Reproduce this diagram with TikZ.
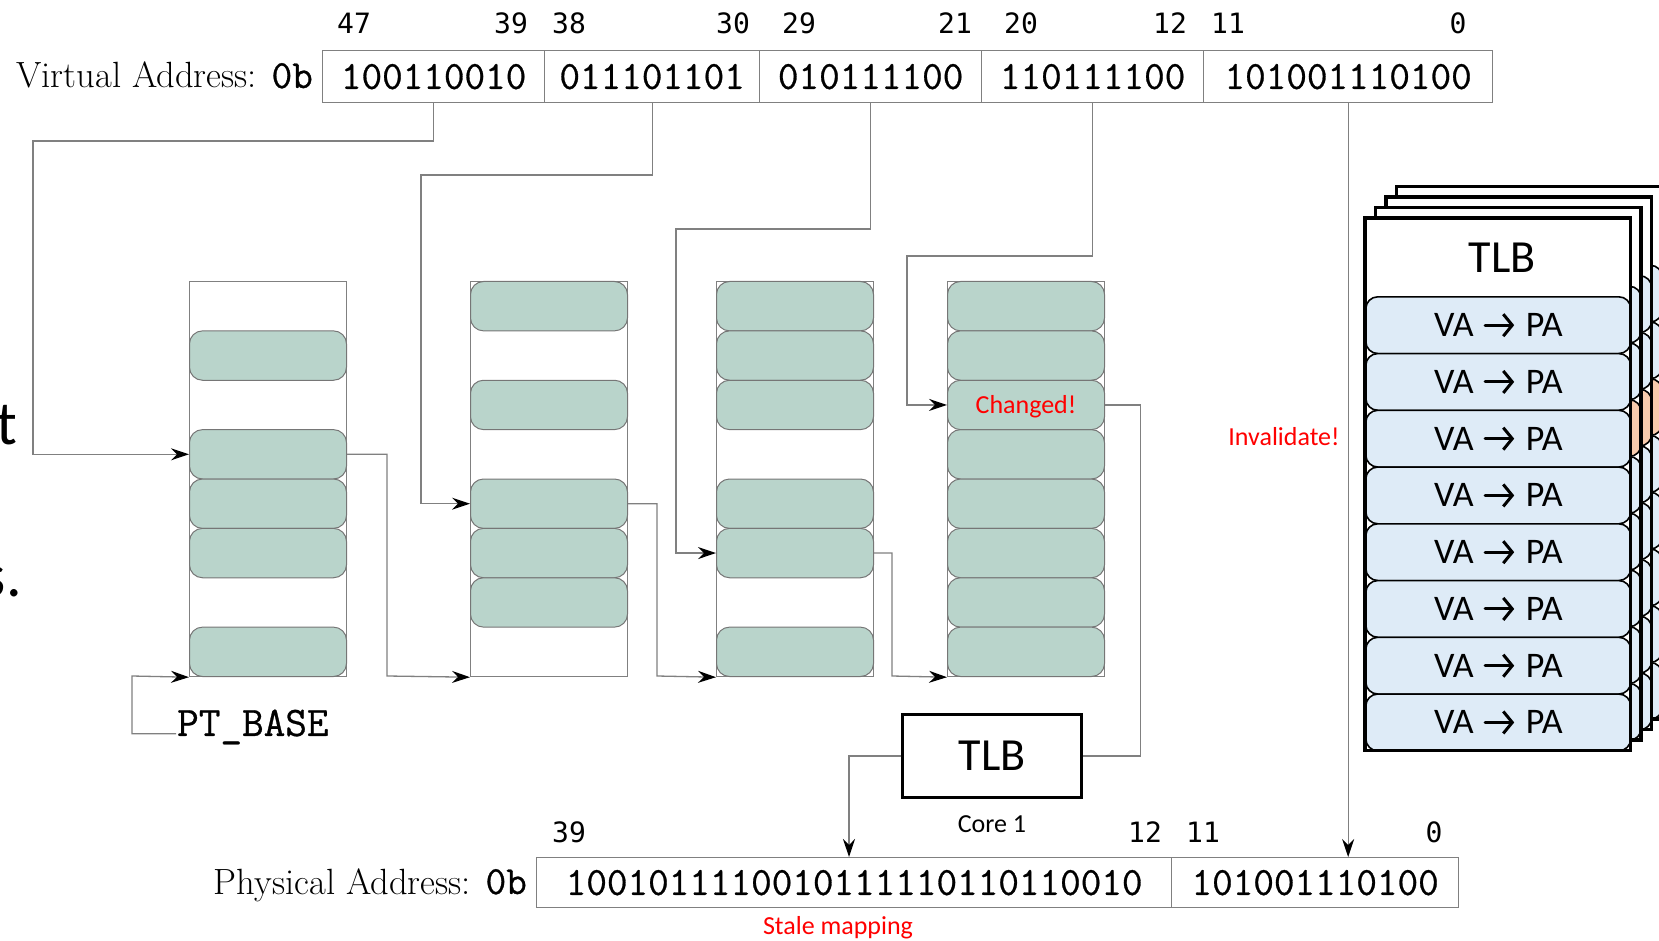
\documentclass[tikz,border=0pt]{standalone}
\usepackage{fontspec}
\usetikzlibrary{arrows.meta,calc}
\newfontfamily\calfont{Carlito}
\newfontfamily\nummono{DejaVu Sans Mono}
\newfontfamily\bitfont{Latin Modern Mono}[FakeBold=0.7]
\definecolor{wiregray}{RGB}{128,128,128}
\definecolor{ptegreen}{RGB}{185,212,203}
\definecolor{pteedge}{RGB}{118,118,118}
\definecolor{tlbblue}{RGB}{222,235,247}
\definecolor{tlborange}{RGB}{248,203,173}
\definecolor{alertred}{RGB}{255,0,0}
% chevron arrow used in the TLB entries
\newcommand{\maparrow}{\tikz[baseline=0pt]\draw[line width=3pt, line cap=round,
  -{Straight Barb[length=9pt, width=22pt, line width=3pt]}] (0pt,11.5pt) -- (29pt,11.5pt);}
\begin{document}
\begin{tikzpicture}[x=1pt,y=-1pt,
  wire/.style={draw=wiregray, line width=1.3pt},
  arr/.style={wire, -{Stealth[length=18pt, width=12pt, inset=6pt, color=black]}},
  vaseg/.style={draw=wiregray, line width=1.3pt, minimum height=52pt, inner sep=0pt,
    anchor=north west, font=\bitfont\fontsize{40}{40}\selectfont},
  bitnum/.style={font=\nummono\fontsize{28}{28}\selectfont, inner sep=0pt},
  ptable/.style={draw=wiregray, line width=1.2pt, minimum width=157pt,
    minimum height=395pt, inner sep=0pt, anchor=north west},
  pte/.style={draw=pteedge, line width=1pt, fill=ptegreen, rounded corners=13pt,
    minimum width=157pt, minimum height=49.375pt, inner sep=0pt, anchor=north west},
  cardframe/.style={fill=white, minimum width=265pt, minimum height=532pt,
    inner sep=0pt, anchor=north west},
  cardedge/.style={draw=black, line width=3.4pt},
  cardrow/.style={draw=black, line width=1.6pt, fill=tlbblue, rounded corners=12pt,
    minimum width=265pt, minimum height=56.625pt, inner sep=0pt, anchor=north west,
    font=\calfont\fontsize{36}{36}\selectfont},
  bigtitle/.style={font=\calfont\fontsize{46}{46}\selectfont, inner sep=0pt},
  note/.style={text=alertred, font=\calfont\fontsize{26}{26}\selectfont, inner sep=0pt},
  slidetext/.style={anchor=base east, inner sep=0pt, font=\calfont\fontsize{62}{62}\selectfont}
]
\useasboundingbox (0,0) rectangle (1659,941);
\clip (0,0) rectangle (1659,941);

% slide text running off the left edge
\node[slidetext] (cutA) at (17,444) {t};
\node[slidetext] (cutB) at (22,596) {s.};

% ---------- virtual address ----------
\node[anchor=base east, inner sep=0pt] (valabel) at (313,88)
  {\fontsize{36.5}{37}\selectfont Virtual Address: {\bitfont\fontsize{40}{40}\selectfont 0b}};
\node[vaseg, minimum width=222pt] (va1) at (322,50) {100110010};
\node[vaseg, minimum width=215pt] (va2) at (544,50) {011101101};
\node[vaseg, minimum width=222pt] (va3) at (759,50) {010111100};
\node[vaseg, minimum width=222pt] (va4) at (981,50) {110111100};
\node[vaseg, minimum width=289pt] (va5) at (1203,50) {101001110100};

\foreach \n/\x in {47/354, 39/511, 38/569, 30/733, 29/799, 21/955, 20/1021, 12/1170, 11/1228, 0/1458}
  \node[bitnum] (vb\n) at (\x,23) {\n};

% ---------- page table levels ----------
\node[ptable] (t1) at (189,281) {};
\node[ptable] (t2) at (470,281) {};
\node[ptable] (t3) at (716,281) {};
\node[ptable] (t4) at (947,281) {};

\foreach \s in {1,3,4,5,7}
  \node[pte] (t1s\s) at ($(t1.north west)+(0,49.375*\s)$) {};
\foreach \s in {0,2,4,5,6}
  \node[pte] (t2s\s) at ($(t2.north west)+(0,49.375*\s)$) {};
\foreach \s in {0,1,2,4,5,7}
  \node[pte] (t3s\s) at ($(t3.north west)+(0,49.375*\s)$) {};
\foreach \s in {0,1,3,4,5,6,7}
  \node[pte] (t4s\s) at ($(t4.north west)+(0,49.375*\s)$) {};
\node[pte, text=alertred, text depth=0pt, font=\calfont\fontsize{26}{26}\selectfont]
  (t4s2) at ($(t4.north west)+(0,49.375*2)$) {Changed!};

% page table base register
\node[anchor=west, inner sep=1pt, font=\bitfont\fontsize{42}{42}\selectfont] (ptb) at (176,727) {PT\_BASE};

% ---------- core TLB ----------
\node[draw=black, line width=2.5pt, minimum width=179pt, minimum height=83pt, bigtitle] (tlb) at (992,756) {TLB};
\node[font=\calfont\fontsize{26}{26}\selectfont, inner sep=0pt] (core) at (992,824) {Core 1};

% ---------- physical address ----------
\node[anchor=base east, inner sep=0pt] (palabel) at (527,894)
  {\fontsize{36.5}{37}\selectfont Physical Address: {\bitfont\fontsize{40}{40}\selectfont 0b}};
\node[vaseg, minimum width=635pt, minimum height=50pt] (pa1) at (536,857) {1001011110010111110110110010};
\node[vaseg, minimum width=287pt, minimum height=50pt] (pa2) at (1171,857) {101001110100};
\foreach \n/\x in {39/569, 12/1145, 11/1203, 0/1434}
  \node[bitnum] (pb\n) at (\x,832) {\n};
\coordinate (paIn) at (849,857);

\node[note] (stale) at (838,928) {Stale mapping};
\node[note] (inval) at (1284,437) {Invalidate!};

% ---------- connectors ----------
\draw[arr] (va1.south) |- (33,141) |- (t1s3.west);
\draw[arr] (va2.south) |- (421,175) |- (t2s4.west);
\draw[arr] (va3.south) |- (676,229) |- (t3s5.west);
\draw[arr] (va4.south) |- (907,256) |- (t4s2.west);
\draw[arr] (va5.south) -- (va5.south |- pa2.north);

\draw[arr] (ptb.mid west) -| (132,676) -- (t1.south west);
\draw[arr] (t1s3.east) -| (387,676) -- (t2.south west);
\draw[arr] (t2s4.east) -| (657,676) -- (t3.south west);
\draw[arr] (t3s5.east) -| (892,676) -- (t4.south west);
\draw[wire] (t4s2.east) -| ($(tlb.east)+(58,0)$) -- (tlb.east);
\draw[arr] (tlb.west) -| (paIn);

% ---------- stack of TLBs (other cores behind) ----------
\foreach \k in {3,2,1} {
  \node[cardframe] (card\k) at (1365+10.5*\k, 218-10.5*\k) {};
  \foreach \r/\c in {0/tlbblue,1/tlbblue,2/tlborange,3/tlbblue,4/tlbblue,5/tlbblue,6/tlbblue,7/tlbblue}
    \node[cardrow, fill=\c] (card\k-\r) at ($(card\k.north west)+(0,78+56.75*\r)$) {};
  \draw[cardedge] (card\k.north west) rectangle (card\k.south east);
}
\node[cardframe] (card0) at (1365,218) {};
\foreach \r in {0,...,7}
  \node[cardrow, minimum height=56.75pt] (card0-\r) at ($(card0.north west)+(0,78+56.75*\r)$)
    {VA\hspace{0.28em}\maparrow\hspace{0.28em}PA};
\draw[cardedge] (card0.north west) rectangle (card0.south east);
\node[bigtitle] (card0title) at ($(card0.north west)+(137,40)$) {TLB};
\end{tikzpicture}
\end{document}
